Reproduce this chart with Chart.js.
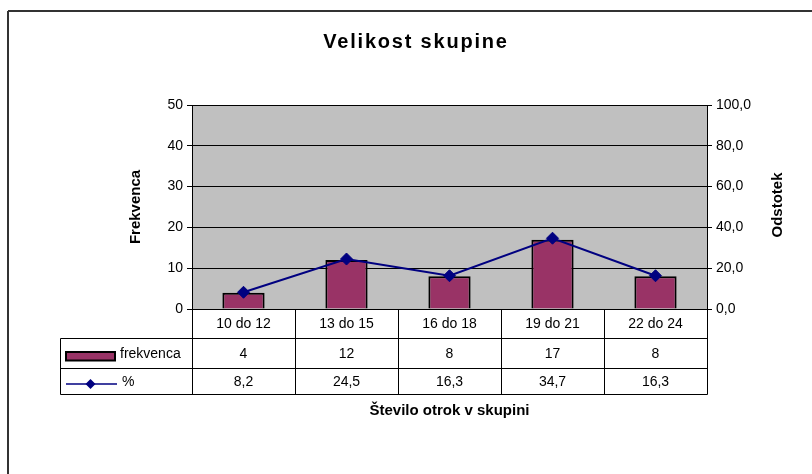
<!DOCTYPE html>
<html><head><meta charset="utf-8">
<script src="https://cdn.jsdelivr.net/npm/chart.js@4/dist/chart.umd.min.js"></script>
<style>html,body{margin:0;padding:0;background:#fff;}#wrap{width:812px;height:474px;}</style>
</head><body><div id="wrap"><canvas id="c" width="812" height="474"></canvas></div>
<script>
const categories = ['10 do 12', '13 do 15', '16 do 18', '19 do 21', '22 do 24'];
const frekvenca = [4, 12, 8, 17, 8];
const odstotek = [8.2, 24.5, 16.3, 34.7, 16.3];
const leftTicks = [0, 10, 20, 30, 40, 50];
const rightTicks = [0, 20, 40, 60, 80, 100];
const seriesNames = ['frekvenca', '%'];
const chartTitle = 'Velikost skupine';
const xTitle = 'Število otrok v skupini';
const yTitle = 'Frekvenca';
const y1Title = 'Odstotek';

const FONT = "'Liberation Sans', Arial, sans-serif";
const BAR = '#993366';
const LINE = '#000080';
const fmt1 = v => Number(v).toFixed(1).replace('.', ',');
const al = p => Math.round(p - 0.5) + 0.5;

function seg(ctx, x1, y1, x2, y2) { ctx.beginPath(); ctx.moveTo(x1, y1); ctx.lineTo(x2, y2); ctx.stroke(); }
function diamond(ctx, x, y, r) {
  ctx.beginPath(); ctx.moveTo(x, y - r); ctx.lineTo(x + r, y); ctx.lineTo(x, y + r); ctx.lineTo(x - r, y); ctx.closePath();
  ctx.fill();
}

const excelPlugin = {
  id: 'excel',
  beforeDraw(chart) {
    const { ctx, chartArea: a } = chart;
    ctx.save();
    ctx.fillStyle = '#fff'; ctx.fillRect(0, 0, chart.width, chart.height);
    ctx.fillStyle = '#C0C0C0'; ctx.fillRect(a.left, a.top, a.right - a.left, a.bottom - a.top);
    // outer frame (top + left visible)
    ctx.strokeStyle = '#333'; ctx.lineWidth = 2;
    seg(ctx, 8, 11, 812, 11); seg(ctx, 8, 11, 8, 474);
    ctx.restore();
  },
  afterDraw(chart) {
    const { ctx, chartArea: a, scales } = chart;
    const x = scales.x;
    const n = categories.length;
    const cw = (a.right - a.left) / n;
    const r0 = a.bottom, r1 = r0 + 29.5, r2 = r1 + 30, r3 = r2 + 26;
    const tLeft = 60.5;
    ctx.save();
    // title
    ctx.fillStyle = '#000';
    ctx.font = 'bold 20px ' + FONT;
    ctx.letterSpacing = '1.8px';
    ctx.textAlign = 'center'; ctx.textBaseline = 'middle';
    ctx.fillText(chartTitle, 416, 42);
    ctx.letterSpacing = '0px';
    // right axis title
    ctx.save();
    ctx.translate(777.5, (a.top + a.bottom) / 2 - 2);
    ctx.rotate(-Math.PI / 2);
    ctx.font = 'bold 15px ' + FONT;
    ctx.fillText(y1Title, 0, 0);
    ctx.restore();
    // table lines
    ctx.strokeStyle = '#000'; ctx.lineWidth = 1;
    [r1, r2, r3].forEach(r => seg(ctx, al(tLeft), al(r), al(a.right), al(r)));
    for (let i = 0; i <= n; i++) {
      const xx = al(a.left + i * cw);
      seg(ctx, xx, al(r0), xx, al(r3));
    }
    seg(ctx, al(tLeft), al(r1), al(tLeft), al(r3));
    // texts
    ctx.font = '14px ' + FONT;
    ctx.textAlign = 'center'; ctx.textBaseline = 'middle';
    categories.forEach((c, i) => {
      const cx = x.getPixelForValue(i);
      ctx.fillText(c, cx, (r0 + r1) / 2);
      ctx.fillText(String(frekvenca[i]), cx, (r1 + r2) / 2 + 0.5);
      ctx.fillText(fmt1(odstotek[i]), cx, (r2 + r3) / 2 + 0.5);
    });
    // legend keys
    ctx.fillStyle = BAR; ctx.strokeStyle = '#000'; ctx.lineWidth = 2;
    ctx.fillRect(66, r1 + 13.5, 49, 8.5); ctx.strokeRect(66, r1 + 13.5, 49, 8.5);
    ctx.fillStyle = '#000'; ctx.textAlign = 'left';
    ctx.fillText(seriesNames[0], 120, (r1 + r2) / 2 + 0.5);
    ctx.strokeStyle = LINE; ctx.lineWidth = 1.5;
    const ly = r2 + 15.5;
    seg(ctx, 66, ly, 117, ly);
    ctx.fillStyle = LINE; diamond(ctx, 90.5, ly, 5);
    ctx.fillStyle = '#000';
    ctx.fillText(seriesNames[1], 122, (r2 + r3) / 2 + 0.5);
    ctx.restore();
  }
};

new Chart(document.getElementById('c'), {
  data: {
    labels: categories,
    datasets: [
      { type: 'line', label: seriesNames[1], data: odstotek, yAxisID: 'y1', order: 0,
        borderColor: LINE, borderWidth: 2, backgroundColor: LINE,
        pointStyle: 'rectRot', pointRadius: 6, pointBackgroundColor: LINE, pointBorderColor: LINE, pointBorderWidth: 1,
        tension: 0, fill: false },
      { type: 'bar', label: seriesNames[0], data: frekvenca, yAxisID: 'y', order: 1,
        backgroundColor: BAR, borderColor: '#000', borderWidth: 2,
        categoryPercentage: 1, barPercentage: 0.41 }
    ]
  },
  options: {
    responsive: false, animation: false, devicePixelRatio: 1,
    layout: { padding: { top: 105, left: 0, right: 0, bottom: 0 } },
    plugins: { legend: { display: false }, tooltip: { enabled: false }, title: { display: false } },
    scales: {
      x: {
        type: 'category', position: 'bottom',
        grid: { display: false }, ticks: { display: false },
        border: { display: true, color: '#000', width: 1 },
        title: { display: true, text: xTitle, color: '#000', font: { family: FONT, size: 15, weight: 'bold' }, padding: { top: 0, bottom: 54 } },
        afterFit(s) { s.height = 165; }
      },
      y: {
        position: 'left', min: leftTicks[0], max: leftTicks[leftTicks.length - 1],
        afterBuildTicks(s) { s.ticks = leftTicks.map(v => ({ value: v })); },
        ticks: { color: '#000', font: { family: FONT, size: 14 }, padding: 4 },
        grid: { color: '#000', lineWidth: 1, drawTicks: true, tickLength: 5, tickColor: '#000' },
        border: { display: true, color: '#000', width: 1 },
        title: { display: true, text: yTitle, color: '#000', font: { family: FONT, size: 15, weight: 'bold' }, padding: { top: 127, bottom: 0 } },
        afterFit(s) { s.width = 192; }
      },
      y1: {
        position: 'right', min: rightTicks[0], max: rightTicks[rightTicks.length - 1],
        afterBuildTicks(s) { s.ticks = rightTicks.map(v => ({ value: v })); },
        ticks: { color: '#000', font: { family: FONT, size: 14 }, padding: 4, callback: v => fmt1(v) },
        grid: { drawOnChartArea: false, drawTicks: true, tickLength: 5, tickColor: '#000', color: '#000' },
        border: { display: true, color: '#000', width: 1 },
        afterFit(s) { s.width = 105; }
      }
    }
  },
  plugins: [excelPlugin]
});
</script>
</body></html>
